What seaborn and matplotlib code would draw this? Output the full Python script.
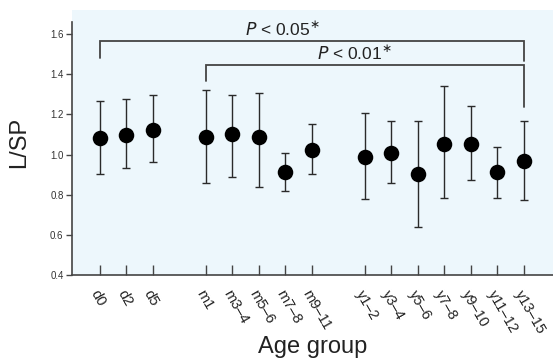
import numpy as np
import pandas as pd
import matplotlib
matplotlib.use("Agg")
import matplotlib.pyplot as plt
import seaborn as sns

# ---- data ----
age_groups = ["d0", "d2", "d5", "m1", "m3\u20134", "m5\u20136", "m7\u20138", "m9\u201311",
              "y1\u20132", "y3\u20134", "y5\u20136", "y7\u20138", "y9\u201310", "y11\u201312", "y13\u201315"]
group_kind = ["d", "d", "d", "m", "m", "m", "m", "m", "y", "y", "y", "y", "y", "y", "y"]
mean_lsp = [1.084, 1.097, 1.124, 1.086, 1.102, 1.087, 0.914, 1.022,
            0.986, 1.009, 0.904, 1.051, 1.051, 0.914, 0.969]
upper_lsp = [1.268, 1.276, 1.295, 1.320, 1.295, 1.308, 1.009, 1.153,
             1.205, 1.168, 1.168, 1.341, 1.242, 1.039, 1.168]
lower_lsp = [0.904, 0.931, 0.963, 0.860, 0.890, 0.838, 0.820, 0.904,
             0.777, 0.860, 0.639, 0.783, 0.873, 0.783, 0.772]
y_ticks = [0.4, 0.6, 0.8, 1.0, 1.2, 1.4, 1.6]

# positions: consecutive within kind, one empty slot between kinds
pos = []
p = 0
for i, k in enumerate(group_kind):
    if i > 0 and k != group_kind[i - 1]:
        p += 1
    pos.append(p)
    p += 1
pos = np.array(pos, dtype=float)

df = pd.DataFrame({"x": pos, "mean": mean_lsp, "upper": upper_lsp, "lower": lower_lsp,
                   "label": age_groups})

sns.set_theme(style="ticks")
plt.rcParams["font.family"] = ["Liberation Sans", "DejaVu Sans"]

fig = plt.figure(figsize=(5.53, 3.61), dpi=100)
ax = fig.add_axes([0.130, 0.238, 0.870, 0.734])
ax.set_facecolor("#EDF7FC")

yerr = np.vstack([df["mean"] - df["lower"], df["upper"] - df["mean"]])
ax.errorbar(df["x"], df["mean"], yerr=yerr, fmt="none", ecolor="#2a2a2a",
            elinewidth=1.0, capsize=3, capthick=1.0, zorder=2)
sns.scatterplot(data=df, x="x", y="mean", ax=ax, s=125, color="black",
                edgecolor="black", linewidth=0, zorder=3, legend=False)

# significance brackets
i0 = age_groups.index("d0")
i1 = age_groups.index("m1")
ilast = age_groups.index("y13\u201315")
bc = "#444444"
x0, x1, xl = pos[i0], pos[i1], pos[ilast]
ax.plot([x0, x0, xl, xl], [1.482, 1.565, 1.565, 1.465], color=bc, lw=1.3,
        solid_joinstyle="miter", zorder=1)
ax.plot([x1, x1, xl, xl], [1.366, 1.449, 1.449, 1.238], color=bc, lw=1.3,
        solid_joinstyle="miter", zorder=1)
ax.text(6.9, 1.592, "$\\it{P}$ < 0.05$^{\\ast}$", ha="center", va="baseline",
        fontsize=12.5, color="#222222")
ax.text(9.6, 1.473, "$\\it{P}$ < 0.01$^{\\ast}$", ha="center", va="baseline",
        fontsize=12.5, color="#222222")

ax.set_xlim(pos[0] - 1.06, pos[-1] + 1.1)
ax.set_ylim(0.4, 1.72)
ax.set_yticks(y_ticks)
ax.set_yticklabels([f"{t:.1f}" for t in y_ticks], fontsize=7, color="#333333")
ax.set_xticks(pos)
ax.set_xticklabels(age_groups, rotation=-60, ha="left", va="top",
                   rotation_mode="anchor", fontsize=10.5, color="#222222")
ax.tick_params(axis="x", direction="in", length=7, width=1.0, color="#444444", pad=9)
ax.tick_params(axis="y", direction="out", length=4, width=1.0, color="#444444", pad=2)

ax.spines["top"].set_visible(False)
ax.spines["right"].set_visible(False)
ax.spines["left"].set_bounds(0.4, 1.66)
for s in ["left", "bottom"]:
    ax.spines[s].set_color("#444444")
    ax.spines[s].set_linewidth(1.2)

ax.set_xlabel("Age group", fontsize=17, color="#222222", labelpad=0)
ax.set_ylabel("L/SP", fontsize=17, color="#222222", labelpad=14)

fig.savefig("out.png", dpi=100)
